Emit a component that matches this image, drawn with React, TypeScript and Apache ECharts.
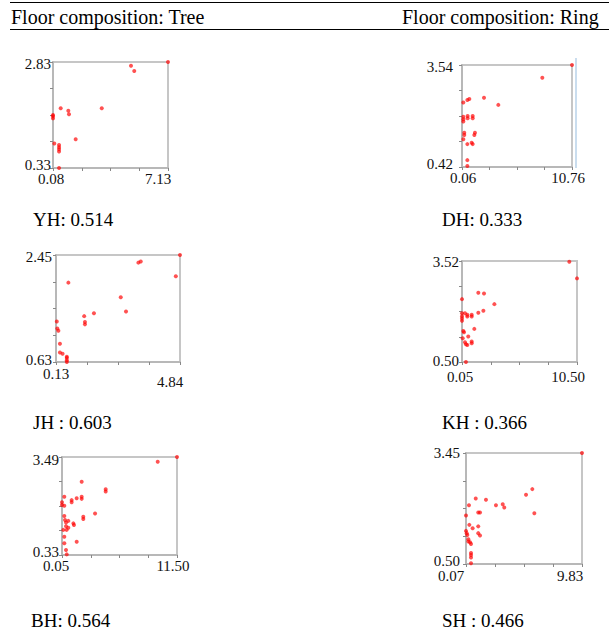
import React, { useEffect, useRef } from 'react';
import * as echarts from 'echarts';

const HEADERS = ['Floor composition: Tree', 'Floor composition: Ring'];
const PANEL_LABELS = ['YH: 0.514', 'DH: 0.333', 'JH : 0.603', 'KH : 0.366', 'BH: 0.564', 'SH : 0.466'];

const X_RANGES: number[][] = [[0.08, 7.13], [0.06, 10.76], [0.13, 4.84], [0.05, 10.5], [0.05, 11.5], [0.07, 9.83]];
const Y_RANGES: number[][] = [[0.33, 2.83], [0.42, 3.54], [0.63, 2.45], [0.5, 3.52], [0.33, 3.49], [0.5, 3.45]];
const X_TICK_LABELS = [['0.08', '7.13'], ['0.06', '10.76'], ['0.13', '4.84'], ['0.05', '10.50'], ['0.05', '11.50'], ['0.07', '9.83']];
const Y_TICK_LABELS = [['0.33', '2.83'], ['0.42', '3.54'], ['0.63', '2.45'], ['0.50', '3.52'], ['0.33', '3.49'], ['0.50', '3.45']];

const YH: number[][] = [
  [7.13, 2.83], [4.86, 2.74], [5.06, 2.62], [0.55, 1.74], [1.02, 1.68], [1.06, 1.6], [3.07, 1.74],
  [0.08, 1.58], [0.08, 1.55], [0.08, 1.5], [1.47, 1.01], [0.16, 0.91], [0.45, 0.87], [0.45, 0.82],
  [0.45, 0.77], [0.45, 0.72], [0.45, 0.33],
];
const DH: number[][] = [
  [10.76, 3.54], [7.87, 3.15], [2.2, 2.54], [3.59, 2.32], [0.19, 2.39], [0.58, 2.47], [0.77, 2.5],
  [0.19, 1.96], [0.19, 1.88], [0.19, 1.81], [0.61, 1.98], [0.61, 1.91], [1.1, 1.98], [1.1, 1.91],
  [0.28, 1.47], [0.28, 1.4], [1.32, 1.47], [1.26, 1.4], [0.19, 1.27], [0.58, 1.12], [1.0, 1.16],
  [1.1, 1.12], [0.58, 0.63], [0.58, 0.45],
];
const JH: number[][] = [
  [4.84, 2.45], [3.26, 2.32], [3.35, 2.34], [4.68, 2.09], [0.6, 1.98], [2.59, 1.73], [2.79, 1.49],
  [1.57, 1.46], [1.2, 1.41], [1.23, 1.31], [1.23, 1.27], [0.16, 1.32], [0.18, 1.2], [0.22, 1.16],
  [0.28, 0.94], [0.28, 0.79], [0.38, 0.77], [0.54, 0.72], [0.54, 0.7], [0.54, 0.66], [0.54, 0.63],
];
const KH: number[][] = [
  [9.8, 3.5], [10.5, 3.0], [1.53, 2.57], [2.05, 2.55], [0.05, 2.38], [2.99, 2.23], [1.53, 1.97],
  [1.99, 2.03], [0.05, 1.96], [0.05, 1.87], [0.05, 1.8], [0.05, 1.73], [0.32, 1.96], [0.53, 1.91],
  [0.53, 1.86], [0.93, 1.91], [0.93, 1.86], [1.17, 1.49], [0.17, 1.43], [0.23, 1.39], [0.62, 1.26],
  [0.11, 1.21], [0.32, 1.09], [0.41, 1.03], [0.53, 1.01], [0.93, 1.11], [0.93, 1.06], [0.41, 0.5],
];
const BH: number[][] = [
  [11.5, 3.49], [9.58, 3.34], [2.01, 2.69], [4.4, 2.45], [4.4, 2.38], [0.28, 2.21], [2.01, 2.21],
  [2.01, 2.14], [1.51, 2.16], [1.01, 2.1], [1.01, 2.03], [0.05, 2.03], [0.05, 1.94], [0.28, 1.92],
  [3.34, 1.67], [2.17, 1.56], [2.17, 1.49], [0.28, 1.59], [0.35, 1.46], [0.45, 1.38], [0.68, 1.43],
  [1.18, 1.35], [1.24, 1.3], [0.45, 1.26], [0.68, 1.21], [0.51, 1.14], [0.18, 1.14], [0.28, 0.92],
  [1.51, 0.76], [0.28, 0.71], [0.45, 0.49], [0.52, 0.35],
];
const SH: number[][] = [
  [9.83, 3.45], [5.65, 2.49], [5.12, 2.34], [5.82, 1.85], [0.89, 2.24], [1.75, 2.21], [3.16, 2.09],
  [3.29, 2.0], [2.59, 2.06], [0.32, 2.06], [0.07, 1.79], [1.1, 1.87], [1.25, 1.87], [0.35, 1.54],
  [0.63, 1.45], [1.1, 1.5], [0.07, 1.38], [0.13, 1.32], [0.18, 1.27], [1.1, 1.32], [1.25, 1.26],
  [0.27, 1.16], [0.27, 1.1], [0.41, 1.08], [0.49, 1.03], [0.49, 0.79], [0.49, 0.74], [0.49, 0.67],
  [0.49, 0.52],
];
const SERIES_DATA = [YH, DH, JH, KH, BH, SH];

// layout (pixels)
const LAYOUT = [
  { l: 53, t: 62, r: 168, b: 168, xMinDx: -2, xMaxDx: -10, xMargin: 3.5, xMaxDy: 0, yMargin: 2, yMinDy: -3, yMaxDy: 2 },
  { l: 462, t: 65, r: 572, b: 167, xMinDx: 1, xMaxDx: -4, xMargin: 3.5, xMaxDy: 0, yMargin: 9, yMinDy: -3, yMaxDy: 2 },
  { l: 56, t: 255, r: 180, b: 362, xMinDx: 0, xMaxDx: -10, xMargin: 4, xMaxDy: 8, yMargin: 4, yMinDy: -2, yMaxDy: 2 },
  { l: 462, t: 261, r: 577, b: 362, xMinDx: -2, xMaxDx: -9, xMargin: 7, xMaxDy: 0, yMargin: 3, yMinDy: -1, yMaxDy: 1 },
  { l: 62, t: 457, r: 177, b: 555, xMinDx: -6, xMaxDx: -4, xMargin: 3.5, xMaxDy: 0, yMargin: 3, yMinDy: -3, yMaxDy: 3 },
  { l: 466, t: 453, r: 582, b: 564, xMinDx: -15, xMaxDx: -12, xMargin: 4, xMaxDy: 0, yMargin: 6, yMinDy: -3, yMaxDy: 0 },
];
const LABEL_POS = [[33, 219], [442, 219], [33, 422], [442, 422], [31, 620], [442, 620]];

const SERIF = '"Liberation Serif", "Times New Roman", serif';

function ticks(min: number, max: number) {
  const out: number[] = [];
  for (let i = 0; i <= 4; i++) out.push(min + ((max - min) * i) / 4);
  return out;
}

function vPad(dy: number) {
  return [Math.max(0, 2 * dy), 0, Math.max(0, -2 * dy), 0];
}

export default function App() {
  const ref = useRef<HTMLDivElement>(null);
  useEffect(() => {
    if (!ref.current) return;
    const chart = echarts.init(ref.current, null, { renderer: 'svg' });
    const grid: any[] = [];
    const xAxis: any[] = [];
    const yAxis: any[] = [];
    const series: any[] = [];
    LAYOUT.forEach((L, i) => {
      grid.push({
        left: L.l, top: L.t, width: L.r - L.l, height: L.b - L.t,
        show: true, borderColor: '#c6c6c6', borderWidth: 2, backgroundColor: 'transparent',
      });
      const [xmin, xmax] = X_RANGES[i];
      const [ymin, ymax] = Y_RANGES[i];
      const xl = X_TICK_LABELS[i];
      const yl = Y_TICK_LABELS[i];
      const mnPad = [0, Math.max(0, -2 * L.xMinDx), 0, Math.max(0, 2 * L.xMinDx)];
      const mxPad = [L.xMaxDy, Math.max(0, -2 * L.xMaxDx), 0, Math.max(0, 2 * L.xMaxDx)];
      const textStyle = { fontSize: 15, fontFamily: SERIF, color: '#111' };
      xAxis.push({
        type: 'value', gridIndex: i, min: xmin, max: xmax,
        splitLine: { show: false },
        axisLine: { show: true, lineStyle: { color: '#b8b8b8', width: 2 } },
        axisTick: { show: true, customValues: ticks(xmin, xmax), length: 3, lineStyle: { color: '#888', width: 1 } },
        axisLabel: {
          customValues: [xmin, xmax],
          margin: L.xMargin,
          ...textStyle,
          formatter: (v: number) => (Math.abs(v - xmin) < 1e-9 ? `{mn|${xl[0]}}` : `{mx|${xl[1]}}`),
          rich: {
            mn: { padding: mnPad, ...textStyle },
            mx: { padding: mxPad, ...textStyle },
          },
        },
      });
      yAxis.push({
        type: 'value', gridIndex: i, min: ymin, max: ymax,
        splitLine: { show: false },
        axisLine: { show: true, lineStyle: { color: '#b8b8b8', width: 2 } },
        axisTick: { show: true, customValues: ticks(ymin, ymax), length: 3, lineStyle: { color: '#888', width: 1 } },
        axisLabel: {
          customValues: [ymin, ymax],
          margin: L.yMargin,
          ...textStyle,
          formatter: (v: number) => (Math.abs(v - ymin) < 1e-9 ? `{mn|${yl[0]}}` : `{mx|${yl[1]}}`),
          rich: {
            mn: { padding: vPad(L.yMinDy), ...textStyle },
            mx: { padding: vPad(L.yMaxDy), ...textStyle },
          },
        },
      });
      series.push({
        type: 'scatter', xAxisIndex: i, yAxisIndex: i, data: SERIES_DATA[i],
        symbol: 'circle', symbolSize: 4, clip: false,
        itemStyle: { color: 'rgba(255,0,0,0.85)' },
      });
    });

    const graphic: any[] = [
      { type: 'line', shape: { x1: 10, y1: 2.5, x2: 609, y2: 2.5 }, style: { stroke: '#000', lineWidth: 1 } },
      { type: 'line', shape: { x1: 10, y1: 29.5, x2: 609, y2: 29.5 }, style: { stroke: '#000', lineWidth: 1 } },
      { type: 'line', shape: { x1: 576, y1: 58, x2: 576, y2: 168 }, style: { stroke: '#b9d2e8', lineWidth: 1.5 } },
      { type: 'text', x: 11, y: 17, style: { text: HEADERS[0], fontSize: 20, fontFamily: SERIF, fill: '#000', verticalAlign: 'middle' } },
      { type: 'text', x: 402, y: 17, style: { text: HEADERS[1], fontSize: 20, fontFamily: SERIF, fill: '#000', verticalAlign: 'middle' } },
    ];
    PANEL_LABELS.forEach((t, i) => {
      graphic.push({
        type: 'text', x: LABEL_POS[i][0], y: LABEL_POS[i][1],
        style: { text: t, fontSize: 19, fontFamily: SERIF, fill: '#000', verticalAlign: 'middle' },
      });
    });

    chart.setOption({ animation: false, grid, xAxis, yAxis, series, graphic });
    return () => chart.dispose();
  }, []);
  return <div ref={ref} style={{ position: 'fixed', left: 0, top: 0, width: 609, height: 632, background: '#fff' }} />;
}
